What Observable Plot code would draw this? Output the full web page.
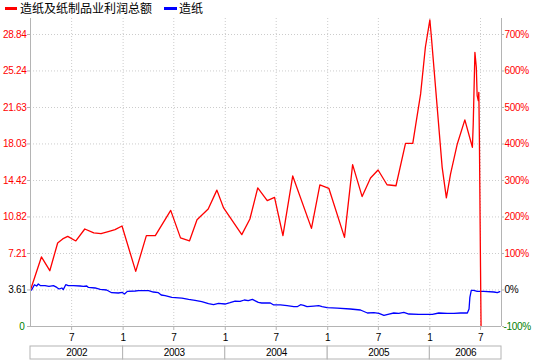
<!DOCTYPE html>
<html><head><meta charset="utf-8">
<script src="https://cdn.jsdelivr.net/npm/d3@7"></script>
<script src="https://cdn.jsdelivr.net/npm/@observablehq/plot@0.6"></script>
<style>
body{margin:0;background:#fff;}
#wrap{position:relative;width:533px;height:360px;background:#fff;}
#legend{position:absolute;left:0;top:0;height:16px;display:flex;align-items:center;font:12px/12px "Noto Sans CJK SC",sans-serif;color:#000;}
#legend .sw{display:inline-block;height:3px;}
</style></head><body>
<div id="wrap"><div id="chart"></div><div id="legend"></div></div>
<script>
// ---- data ----
const seriesNames = ["造纸及纸制品业利润总额", "造纸"];
const seriesColors = ["#ff0000", "#0000ff"];

const profitDates = ["2002-02-04","2002-03-15","2002-04-14","2002-05-12","2002-05-30","2002-06-17","2002-07-16","2002-08-17","2002-09-18","2002-10-14","2002-11-12","2002-12-03","2002-12-28",
"2003-02-15","2003-03-25","2003-04-26","2003-06-20","2003-07-25","2003-08-26","2003-09-22","2003-11-01","2003-12-02","2003-12-26",
"2004-02-29","2004-03-29","2004-04-26","2004-05-30","2004-06-25","2004-07-25","2004-08-29","2004-11-04","2004-12-04",
"2005-01-05","2005-03-02","2005-03-31","2005-05-04","2005-06-03","2005-06-30","2005-08-01","2005-09-02","2005-10-06","2005-11-01","2005-11-11","2005-11-29","2005-12-16",
"2006-01-01","2006-01-06","2006-02-14","2006-03-01","2006-03-16","2006-04-09","2006-05-06","2006-06-02","2006-06-05","2006-06-11","2006-06-16","2006-06-19","2006-06-23","2006-06-25","2006-06-27","2006-07-01","2006-07-03"];
const profitValues = [3.61,6.87,5.51,8.25,8.65,8.90,8.45,9.63,9.24,9.17,9.40,9.57,9.93,
5.44,8.97,8.97,11.47,8.75,8.45,10.55,11.61,13.47,11.71,
9.07,10.62,13.69,12.43,12.76,8.97,14.87,9.69,13.98,
13.65,8.80,15.99,12.83,14.67,15.46,14.0,13.9,18.09,18.09,19.84,22.97,27.58,
30.29,28.74,15.72,12.70,15.07,18.03,20.41,17.70,20.01,27.08,25.60,22.81,22.31,23.13,18.69,5.84,0];

const paperDates = ["2002-02-04","2002-02-08","2002-02-18","2002-02-26","2002-03-04","2002-03-12","2002-03-28","2002-04-11","2002-04-27","2002-05-09","2002-05-17","2002-05-27","2002-06-01","2002-06-10","2002-06-19","2002-07-07","2002-07-31","2002-08-12","2002-08-24","2002-08-30","2002-09-23","2002-10-11","2002-11-03","2002-11-21","2002-12-15","2002-12-29",
"2003-01-06","2003-01-16","2003-02-13","2003-02-25","2003-03-15","2003-04-02","2003-04-19","2003-05-07","2003-05-17","2003-05-31","2003-06-24","2003-07-30","2003-08-23","2003-09-15","2003-10-09","2003-11-02","2003-11-20","2003-12-08","2003-12-31",
"2004-01-18","2004-02-05","2004-02-23","2004-03-09","2004-03-23","2004-04-07","2004-04-28","2004-05-10","2004-06-10","2004-06-22","2004-07-16","2004-08-09","2004-09-02","2004-09-14","2004-09-26","2004-10-07","2004-10-19","2004-11-12","2004-11-30","2004-12-12","2004-12-30",
"2005-02-04","2005-03-23","2005-04-28","2005-05-23","2005-06-15","2005-07-03","2005-07-21","2005-08-08","2005-08-25","2005-09-12","2005-09-30","2005-10-18","2005-11-23",
"2006-01-10","2006-02-02","2006-03-04","2006-03-28","2006-04-21","2006-05-15","2006-05-21","2006-05-24","2006-05-29","2006-06-07","2006-06-19","2006-07-13","2006-08-18","2006-08-30","2006-09-08"];
const paperPct = [0,0,14.5,11,16.4,11.8,11.8,10,12,7,2.7,5.5,1,14.5,11.8,11.8,11,10,11,7,5.5,1.6,0,-7.4,-8.2,-6.6,
-11,-3.8,-2.7,-1.9,-1.9,-1.9,-5.5,-7.4,-13.7,-15.6,-20.3,-22,-25.8,-28.5,-32,-37.6,-40.3,-36.7,-38.4,
-34.8,-30.2,-31.3,-27.4,-29.3,-25.8,-34,-35.6,-35.6,-41,-41,-43,-45.8,-45.8,-40.3,-42,-45.8,-44,-43,-45.8,-48.5,
-49.4,-52,-54.8,-63,-62.2,-64.2,-69.6,-65.8,-63,-64.2,-61.4,-65.8,-66.9,
-66.9,-63,-64.2,-64.2,-63,-63,-52,-20.3,-1,-1,-3.8,-3.8,-5.5,-7.4,-4.7];

const baseValue = 3.605;          // level of 0% on the right axis
const leftTicks = [0, 3.61, 7.21, 10.82, 14.42, 18.03, 21.63, 25.24, 28.84];
const rightTicks = [-100, 0, 100, 200, 300, 400, 500, 600, 700];
const monthTicks = ["2002-07-01","2003-01-01","2003-07-01","2004-01-01","2004-07-01","2005-01-01","2005-07-01","2006-01-01","2006-07-01"];
const years = [2002, 2003, 2004, 2005, 2006];
const xStart = "2002-02-04", xEnd = "2006-09-14";
const yMax = 30.42;

// ---- build ----
const parse = d3.utcParse("%Y-%m-%d");
const red = profitDates.map((d, i) => ({date: parse(d), value: profitValues[i]}));
const blue = paperDates.map((d, i) => ({date: parse(d), value: baseValue * (1 + paperPct[i] / 100)}));
const xDomain = [parse(xStart), parse(xEnd)];
const ticksX = monthTicks.map(parse);
const yearBoxes = years.map(y => {
  const a = new Date(Math.max(+xDomain[0], Date.UTC(y, 0, 1)));
  const b = new Date(Math.min(+xDomain[1], Date.UTC(y + 1, 0, 1)));
  return {year: String(y), x1: a, x2: b, mid: new Date((+a + +b) / 2)};
});
const toRight = p => baseValue * (1 + p / 100);
const fmtL = d => d === 0 ? "0" : d.toFixed(2);
const fmtR = d => Math.round((d / baseValue - 1) * 100) + "%";
const axisGray = "#b4b4b4";
const gridGray = "#cccccc";
const RED = "#ff0000", GREEN = "#008000", BLACK = "#000000";

const chart = Plot.plot({
  width: 533, height: 360,
  marginTop: 18, marginBottom: 34, marginLeft: 30, marginRight: 32,
  style: {fontFamily: "'Liberation Sans',Arial,sans-serif", fontSize: "10px", letterSpacing: "-0.3px", background: "#fff", color: "#000"},
  x: {type: "utc", domain: xDomain, axis: null},
  y: {domain: [0, yMax], axis: null},
  marks: [
    Plot.gridY(leftTicks.slice(1), {stroke: gridGray, strokeOpacity: 1, strokeDasharray: "1,2"}),
    Plot.gridX(ticksX, {stroke: gridGray, strokeOpacity: 1, strokeDasharray: "1,2"}),
    Plot.line(blue, {x: "date", y: "value", stroke: seriesColors[1], strokeWidth: 1.3}),
    Plot.line(red, {x: "date", y: "value", stroke: seriesColors[0], strokeWidth: 1.3}),
    Plot.ruleX(xDomain, {stroke: axisGray}),
    Plot.ruleY([0], {stroke: axisGray}),
    // left axis
    Plot.axisY(leftTicks.slice(2), {anchor: "left", tickSize: 3, tickPadding: 1, stroke: axisGray, fill: RED, tickFormat: fmtL, label: null}),
    Plot.axisY([leftTicks[1]], {anchor: "left", tickSize: 3, tickPadding: 1, stroke: axisGray, fill: BLACK, tickFormat: fmtL, label: null}),
    Plot.axisY([leftTicks[0]], {anchor: "left", tickSize: 3, tickPadding: 3, stroke: axisGray, fill: GREEN, tickFormat: fmtL, label: null}),
    // right axis
    Plot.axisY(rightTicks.slice(2).map(toRight), {anchor: "right", tickSize: 2, tickPadding: 1, stroke: axisGray, fill: RED, tickFormat: fmtR, label: null}),
    Plot.axisY([toRight(rightTicks[1])], {anchor: "right", tickSize: 2, tickPadding: 1, stroke: axisGray, fill: BLACK, tickFormat: fmtR, label: null}),
    Plot.axisY([toRight(rightTicks[0])], {anchor: "right", tickSize: 2, tickPadding: 0, stroke: axisGray, fill: GREEN, tickFormat: fmtR, label: null}),
    // x axis month ticks
    Plot.axisX(ticksX, {anchor: "bottom", tickSize: 4, tickPadding: 3, stroke: axisGray, fill: BLACK, tickFormat: d => String(d.getUTCMonth() + 1), label: null}),
    // year band
    Plot.rect(yearBoxes, {x1: "x1", x2: "x2", y1: 0, y2: 0, insetTop: 20, insetBottom: -33, fill: "#fff", stroke: axisGray}),
    Plot.text(yearBoxes, {x: "mid", y: 0, dy: 26.5, text: "year", fill: BLACK})
  ]
});
document.getElementById("chart").appendChild(chart);

const legend = document.getElementById("legend");
seriesNames.forEach((name, i) => {
  const sw = document.createElement("span");
  sw.className = "sw";
  sw.style.background = seriesColors[i];
  sw.style.width = i === 0 ? "12px" : "13px";
  sw.style.marginLeft = i === 0 ? "5px" : "12px";
  sw.style.marginRight = i === 0 ? "3px" : "2px";
  const t = document.createElement("span");
  t.textContent = name;
  legend.appendChild(sw);
  legend.appendChild(t);
});
</script>
</body></html>
